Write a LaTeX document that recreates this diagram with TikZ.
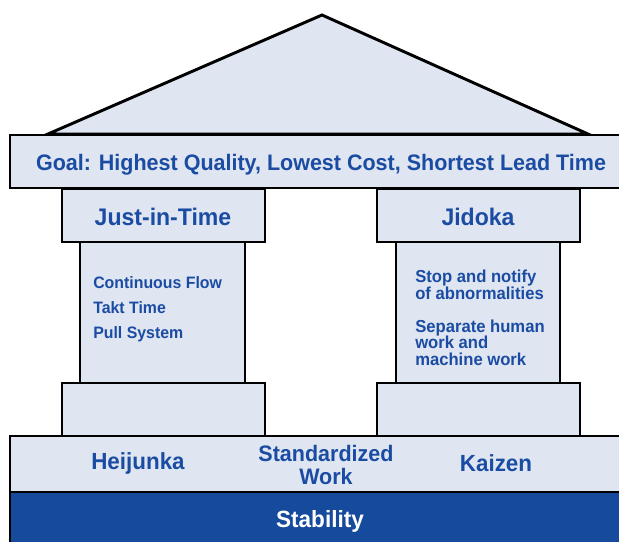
\documentclass[tikz,border=0pt]{standalone}
\usepackage{fontspec}
\setmainfont{Liberation Sans}[FakeStretch=0.96]
\definecolor{pale}{HTML}{DFE5F1}
\definecolor{ink}{HTML}{1B4CA3}
\definecolor{deep}{HTML}{154A9C}
\begin{document}
\begin{tikzpicture}[x=0.75pt,y=-0.75pt,
  part/.style={draw=black,line width=2.2pt,fill=pale},
  big/.style={text=ink,font=\bfseries\fontsize{16.8}{18}\selectfont},
  mid/.style={text=ink,font=\bfseries\fontsize{17.5}{15}\selectfont,align=center},
  small/.style={text=ink,font=\bfseries\fontsize{12.4}{18.75}\selectfont,align=left,anchor=north west,inner sep=0pt}]
\useasboundingbox (0,0) rectangle (619,542);
\clip (0,0) rectangle (619,542);
% roof
\draw[part,line join=miter] (48,134) -- (322,15) -- (588,134) -- cycle;
% goal
\draw[part] (10,135) rectangle (630,188);
\node[big] (goal) at (321,165) {Goal: Highest Quality, Lowest Cost, Shortest Lead Time};
% left pillar
\draw[part] (80,242) rectangle (245,383);
\draw[part] (62,189) rectangle (265,242);
\node[mid,font=\bfseries\fontsize{18}{15}\selectfont] (jit) at (163,217) {Just-in-Time};
\draw[part] (62,383) rectangle (265,436);
\node[small] (jitlist) at (93,276) {Continuous Flow\\Takt Time\\Pull System};
% right pillar
\draw[part] (396,242) rectangle (560,383);
\draw[part] (377,189) rectangle (580,242);
\node[mid,font=\bfseries\fontsize{18}{15}\selectfont] (jid) at (478,217) {Jidoka};
\draw[part] (377,383) rectangle (580,436);
\node[small,font=\bfseries\fontsize{13}{12.4}\selectfont] (jidlist) at (415,270) {Stop and notify\\of abnormalities\\[12.4pt]Separate human\\work and\\machine work};
% foundation
\draw[part] (10,436) rectangle (630,492);
\node[mid] (hei) at (138,463) {Heijunka};
\node[mid,font=\bfseries\fontsize{16.8}{16.6}\selectfont] (std) at (326,465) {Standardized\\Work};
\node[mid] (kai) at (496,463) {Kaizen};
% stability
\draw[draw=black,line width=2.2pt,fill=deep] (10,492) rectangle (630,560);
\node[text=white,font=\bfseries\fontsize{17.6}{15}\selectfont] (stab) at (320,521) {Stability};
\end{tikzpicture}
\end{document}
